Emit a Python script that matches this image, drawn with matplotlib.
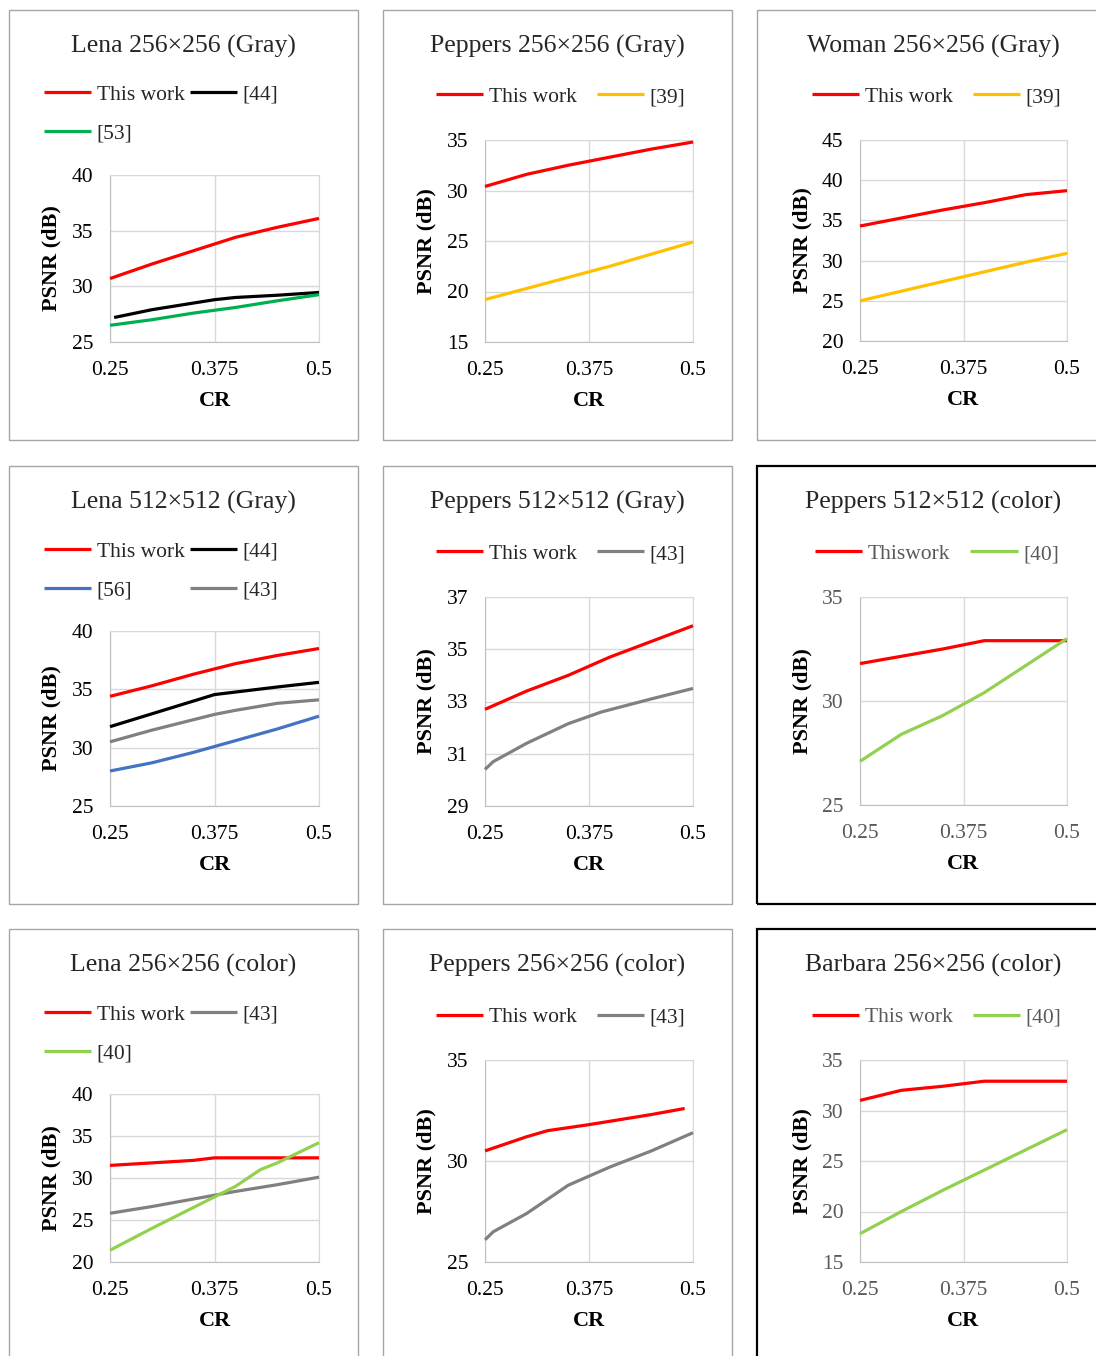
import matplotlib
matplotlib.use("Agg")
import matplotlib.pyplot as plt
from matplotlib.patches import Rectangle

plt.rcParams["font.family"] = ["Liberation Serif", "DejaVu Serif"]

W, H = 1096, 1356

RED = "#FF0000"
BLACK = "#000000"
GREEN = "#00B050"
YELLOW = "#FFC000"
BLUE = "#4472C4"
GRAY = "#808080"
LGREEN = "#92D050"

cr = [0.25, 0.3, 0.35, 0.4, 0.45, 0.5]

# Lena 256x256 (Gray)
lena256g_this = [30.7, 32.0, 33.2, 34.4, 35.3, 36.1]
lena256g_44_cr = [0.255, 0.3, 0.35, 0.375, 0.4, 0.45, 0.5]
lena256g_44 = [27.2, 27.9, 28.5, 28.8, 29.0, 29.2, 29.45]
lena256g_53 = [26.5, 27.0, 27.6, 28.1, 28.7, 29.25]

# Peppers 256x256 (Gray)
pep256g_this = [30.4, 31.6, 32.5, 33.3, 34.1, 34.8]
pep256g_39 = [19.2, 20.3, 21.4, 22.5, 23.7, 24.9]

# Woman 256x256 (Gray)
wom256g_this = [34.3, 35.3, 36.3, 37.2, 38.2, 38.7]
wom256g_39 = [25.0, 26.2, 27.4, 28.6, 29.8, 30.9]

# Lena 512x512 (Gray)
lena512g_this = [34.4, 35.3, 36.3, 37.2, 37.9, 38.5]
lena512g_44_cr = [0.25, 0.3, 0.375, 0.45, 0.5]
lena512g_44 = [31.8, 32.9, 34.55, 35.2, 35.6]
lena512g_56 = [28.0, 28.7, 29.6, 30.6, 31.6, 32.7]
lena512g_43_cr = [0.25, 0.3, 0.35, 0.375, 0.4, 0.45, 0.5]
lena512g_43 = [30.5, 31.5, 32.4, 32.85, 33.2, 33.8, 34.1]

# Peppers 512x512 (Gray)
pep512g_this = [32.7, 33.4, 34.0, 34.7, 35.3, 35.9]
pep512g_43_cr = [0.25, 0.26, 0.3, 0.35, 0.39, 0.45, 0.5]
pep512g_43 = [30.4, 30.7, 31.4, 32.15, 32.6, 33.1, 33.5]

# Peppers 512x512 (color)
pep512c_this = [31.8, 32.15, 32.5, 32.9, 32.9, 32.9]
pep512c_40 = [27.1, 28.4, 29.3, 30.4, 31.7, 33.0]

# Lena 256x256 (color)
lena256c_this_cr = [0.25, 0.3, 0.35, 0.375, 0.4, 0.45, 0.5]
lena256c_this = [31.5, 31.8, 32.1, 32.4, 32.4, 32.4, 32.4]
lena256c_43 = [25.8, 26.6, 27.5, 28.4, 29.2, 30.1]
lena256c_40_cr = [0.25, 0.3, 0.35, 0.4, 0.43, 0.45, 0.5]
lena256c_40 = [21.4, 24.0, 26.5, 29.0, 31.0, 31.8, 34.2]

# Peppers 256x256 (color)
pep256c_this_cr = [0.25, 0.3, 0.325, 0.375, 0.45, 0.49]
pep256c_this = [30.5, 31.2, 31.5, 31.8, 32.3, 32.6]
pep256c_43_cr = [0.25, 0.26, 0.3, 0.35, 0.4, 0.45, 0.5]
pep256c_43 = [26.1, 26.5, 27.4, 28.8, 29.7, 30.5, 31.4]

# Barbara 256x256 (color)
bar256c_this = [31.0, 32.0, 32.4, 32.9, 32.9, 32.9]
bar256c_40 = [17.8, 20.0, 22.1, 24.1, 26.1, 28.1]

# panel layout in pixels: box, axes area, title / legend rows
col_box = [(9, 358), (383, 732), (757, 1110)]
row_box = [(10, 440), (466, 904), (929, 1370)]
col_ax = [(110, 319), (485, 693), (860, 1067)]

panels = [
    dict(title="Lena 256×256 (Gray)", ylim=(25, 40), step=5, ax_y=(175, 342),
         series=[("This work", cr, lena256g_this, RED),
                 ("[44]", lena256g_44_cr, lena256g_44, BLACK),
                 ("[53]", cr, lena256g_53, GREEN)]),
    dict(title="Peppers 256×256 (Gray)", ylim=(15, 35), step=5, ax_y=(140, 342),
         series=[("This work", cr, pep256g_this, RED),
                 ("[39]", cr, pep256g_39, YELLOW)]),
    dict(title="Woman 256×256 (Gray)", ylim=(20, 45), step=5, ax_y=(140, 341),
         series=[("This work", cr, wom256g_this, RED),
                 ("[39]", cr, wom256g_39, YELLOW)]),
    dict(title="Lena 512×512 (Gray)", ylim=(25, 40), step=5, ax_y=(631, 806),
         series=[("This work", cr, lena512g_this, RED),
                 ("[44]", lena512g_44_cr, lena512g_44, BLACK),
                 ("[56]", cr, lena512g_56, BLUE),
                 ("[43]", lena512g_43_cr, lena512g_43, GRAY)]),
    dict(title="Peppers 512×512 (Gray)", ylim=(29, 37), step=2, ax_y=(597, 806),
         series=[("This work", cr, pep512g_this, RED),
                 ("[43]", pep512g_43_cr, pep512g_43, GRAY)]),
    dict(title="Peppers 512×512 (color)", ylim=(25, 35), step=5, ax_y=(597, 805),
         series=[("Thiswork", cr, pep512c_this, RED),
                 ("[40]", cr, pep512c_40, LGREEN)], dark=True),
    dict(title="Lena 256×256 (color)", ylim=(20, 40), step=5, ax_y=(1094, 1262),
         series=[("This work", lena256c_this_cr, lena256c_this, RED),
                 ("[43]", cr, lena256c_43, GRAY),
                 ("[40]", lena256c_40_cr, lena256c_40, LGREEN)]),
    dict(title="Peppers 256×256 (color)", ylim=(25, 35), step=5, ax_y=(1060, 1262),
         series=[("This work", pep256c_this_cr, pep256c_this, RED),
                 ("[43]", pep256c_43_cr, pep256c_43, GRAY)]),
    dict(title="Barbara 256×256 (color)", ylim=(15, 35), step=5, ax_y=(1060, 1262),
         series=[("This work", cr, bar256c_this, RED),
                 ("[40]", cr, bar256c_40, LGREEN)], dark=True),
]

title_y = [46, 502, 965]
legend_y = [94, 551, 1014]
row_gap = 38

fig = plt.figure(figsize=(W / 100, H / 100), dpi=100)

for i, p in enumerate(panels):
    r, c = divmod(i, 3)
    dark = p.get("dark", False)
    txt_col = "#595959" if dark else "black"

    # panel frame
    bx0, bx1 = col_box[c]
    by0, by1 = row_box[r]
    fig.add_artist(Rectangle((bx0 / W, 1 - by1 / H), (bx1 - bx0) / W, (by1 - by0) / H,
                             transform=fig.transFigure, fill=False,
                             edgecolor="black" if dark else "#A6A6A6",
                             lw=1.6 if dark else 1.0))

    l, rr = col_ax[c]
    t, b = p["ax_y"]
    ax = fig.add_axes([l / W, 1 - b / H, (rr - l) / W, (b - t) / H])
    hpx = b - t

    lines = []
    for label, xs, ys, color in p["series"]:
        ln, = ax.plot(xs, ys, color=color, lw=2.3, label=label,
                      solid_capstyle="butt", clip_on=False, zorder=3)
        lines.append(ln)

    y0, y1 = p["ylim"]
    ax.set_xlim(0.25, 0.5)
    ax.set_ylim(y0, y1)
    ax.set_xticks([0.25, 0.375, 0.5])
    ax.set_xticklabels(["0.25", "0.375", "0.5"])
    ax.set_yticks(list(range(y0, y1 + 1, p["step"])))
    ax.grid(True, color="#D9D9D9", lw=1.0, zorder=0)
    for s in ax.spines.values():
        s.set_color("#D9D9D9")
    ax.spines["left"].set_color("#BFBFBF")
    ax.spines["bottom"].set_color("#BFBFBF")
    ax.tick_params(axis="both", length=0, labelsize=15.5, labelcolor=txt_col)
    ax.tick_params(axis="y", pad=12)
    ax.tick_params(axis="x", pad=13.5)

    ax.set_xlabel("CR", fontsize=16, fontweight="bold", va="center")
    ax.xaxis.set_label_coords(0.5, -(401 - 342) / hpx)
    ax.set_ylabel("PSNR (dB)", fontsize=16, fontweight="bold", va="center")
    ax.yaxis.set_label_coords(-0.28, 0.5)

    cx = (bx0 + min(bx1, 1110)) / 2
    fig.text(cx / W, 1 - title_y[r] / H, p["title"], ha="center", va="center",
             fontsize=18.5, color="#262626")

    # legend, filled row by row like the spreadsheet charts
    n = len(lines)
    common = dict(ncol=2, frameon=False, borderpad=0, handlelength=2.2,
                  handletextpad=0.25, fontsize=15.5, borderaxespad=0)
    if n == 2:
        leg = fig.legend(handles=lines, loc="center",
                         bbox_to_anchor=(cx / W + 0.003, 1 - (legend_y[r] + 3) / H),
                         columnspacing=0.95, **common)
    else:
        order = [0, 2, 1] if n == 3 else [0, 2, 1, 3]
        hs = [lines[k] for k in order]
        leg = fig.legend(handles=hs, loc="center left",
                         bbox_to_anchor=(44 / W, 1 - (legend_y[r] + row_gap / 2 + 1) / H),
                         columnspacing=0.25, labelspacing=0.86, **common)
    for tx in leg.get_texts():
        tx.set_color(txt_col if dark else "#262626")

fig.savefig("out.png", dpi=100, facecolor="white")
